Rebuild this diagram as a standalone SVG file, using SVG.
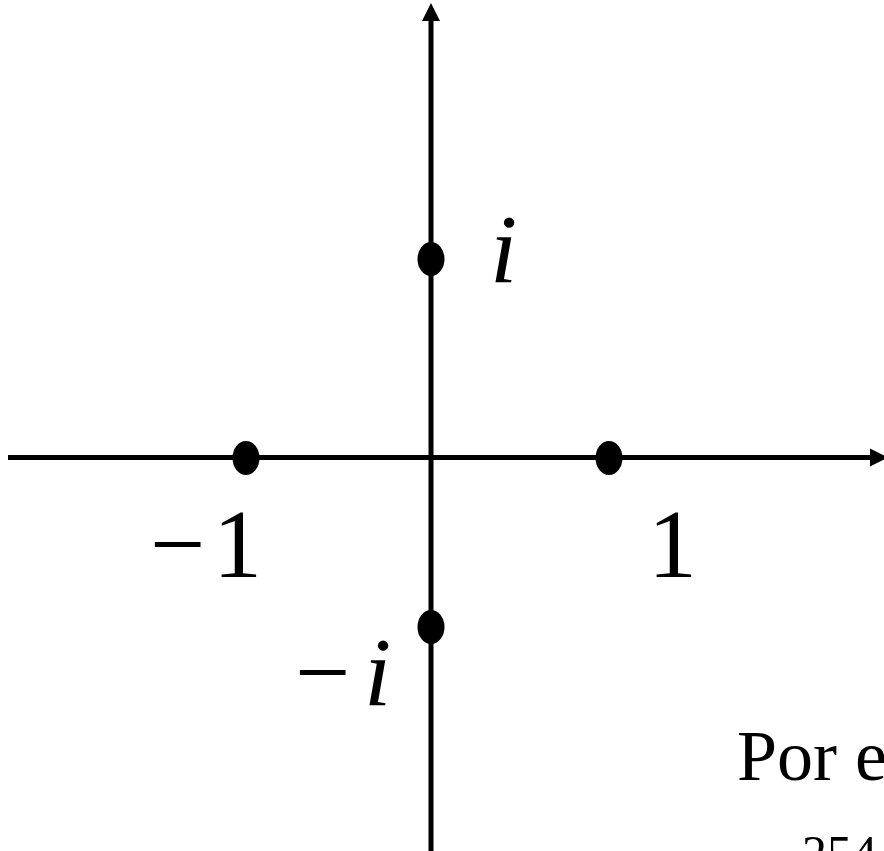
<svg xmlns="http://www.w3.org/2000/svg" width="884" height="851" viewBox="0 0 884 851">
<style>
.ax{stroke:#000;stroke-width:5;fill:none}
.pt{fill:#000}
.t{font-family:"Liberation Serif","Times New Roman",serif;font-size:98px;fill:#000}
.it{font-style:italic}
</style>
<rect width="884" height="851" fill="#fff"/>
<g id="connectors">
<line class="ax" x1="8" y1="457.5" x2="870" y2="457.5"/>
<polygon points="888,457.5 870,448.5 870,466.5" fill="#000"/>
<line class="ax" x1="431" y1="851" x2="431" y2="18"/>
<polygon points="431,3 422,21 440,21" fill="#000"/>
</g>
<g id="p_neg1"><ellipse class="pt" cx="246" cy="458" rx="13.5" ry="17"/><text class="t" x="150" y="577">−<tspan x="213">1</tspan></text></g>
<g id="p_1"><ellipse class="pt" cx="609" cy="458" rx="13.5" ry="17"/><text class="t" x="648" y="577">1</text></g>
<g id="p_i"><ellipse class="pt" cx="431" cy="259" rx="13.5" ry="17"/><text class="t it" x="490" y="282">i</text></g>
<g id="p_negi"><ellipse class="pt" cx="431" cy="627" rx="13.5" ry="17"/><text class="t" x="295" y="705">−<tspan class="it" x="364">i</tspan></text></g>
<g id="caption">
<text class="t" style="font-size:72px" x="737" y="780">Por e</text>
<text class="t" style="font-size:50px" x="802" y="870">254</text>
</g>
</svg>
